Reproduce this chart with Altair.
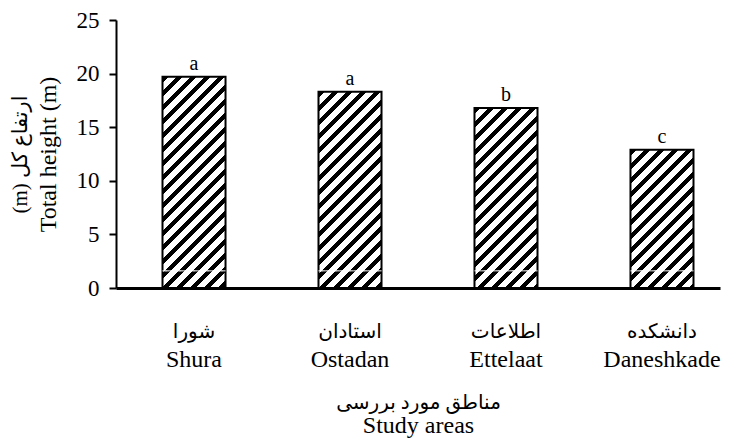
import altair as alt
import pandas as pd

areas_fa = ["شورا", "استادان", "اطلاعات", "دانشکده"]
areas_en = ["Shura", "Ostadan", "Ettelaat", "Daneshkade"]
heights = [19.7, 18.3, 16.8, 12.9]
letters = ["a", "a", "b", "c"]
lower_seg = [1.6, 1.6, 1.6, 1.6]

x_title_fa = "مناطق مورد بررسی"
x_title_en = "Study areas"
y_title_fa = "\u202bارتفاع کل (m)\u202c"
y_title_en = "Total height (m)"

labels = [f"{fa}|{en}" for fa, en in zip(areas_fa, areas_en)]
df = pd.DataFrame({"area": labels, "h": heights, "letter": letters, "seg": lower_seg})

W, H = 604, 268
YMAX = 25
BW = 63.0          # approx band width in px (for hatch geometry)
PERIOD = 14.0      # hatch period measured along x+y
DUTY = 0.47
FONT = "Liberation Serif, DejaVu Sans"


def hatch(value):
    w = BW
    h = value * H / YMAX
    s = w + h
    dx = w * s / (w * w + h * h)
    dy = h * s / (w * w + h * h)
    stops = [alt.GradientStop(color="white", offset=0)]
    k = 0
    while k * PERIOD < s:
        t0 = k * PERIOD / s
        t1 = min((k * PERIOD + DUTY * PERIOD) / s, 1.0)
        stops += [
            alt.GradientStop(color="white", offset=t0),
            alt.GradientStop(color="black", offset=t0),
            alt.GradientStop(color="black", offset=t1),
            alt.GradientStop(color="white", offset=t1),
        ]
        k += 1
    stops.append(alt.GradientStop(color="white", offset=1))
    return alt.LinearGradient(gradient="linear", stops=stops, x1=0, y1=0, x2=dx, y2=dy)


xscale = alt.Scale(domain=labels, paddingInner=0.596, paddingOuter=0.234, align=0.637)
yscale = alt.Scale(domain=[0, YMAX])

common = dict(labelColor="black", titleColor="black", titleFontWeight="normal", titleFont=FONT, labelFont=FONT)

# Axis 1: Persian category names + Persian x title, axis line
x_axis_fa = alt.Axis(
    orient="bottom",
    title=x_title_fa,
    labelExpr="split(datum.label, '|')[0]",
    labelAngle=0,
    labelFontSize=20,
    labelBaseline="alphabetic",
    labelPadding=49,
    ticks=False,
    domainColor="black",
    domainWidth=3,
    titleFontSize=20,
    titleBaseline="alphabetic",
    titleX=W / 2,
    titleY=120,
    **common,
)
# Axis 2: English category names + English x title
x_axis_en = alt.Axis(
    orient="bottom",
    title=x_title_en,
    labelExpr="split(datum.label, '|')[1]",
    labelAngle=0,
    labelFontSize=24,
    labelBaseline="alphabetic",
    labelPadding=78,
    ticks=False,
    domain=False,
    titleFontSize=24,
    titleBaseline="alphabetic",
    titleX=W / 2,
    titleY=144,
    **common,
)
y_axis_en = alt.Axis(
    orient="left",
    title=y_title_en,
    values=[0, 5, 10, 15, 20, 25],
    grid=False,
    labelFontSize=23,
    labelPadding=10,
    tickSize=7,
    tickWidth=2,
    tickColor="black",
    domainColor="black",
    domainWidth=2,
    titleFontSize=24,
    titleAngle=270,
    titleBaseline="middle",
    titleAlign="center",
    titleX=-68,
    titleY=H / 2,
    **common,
)
y_axis_fa = alt.Axis(
    orient="left",
    title=y_title_fa,
    labels=False,
    ticks=False,
    domain=False,
    grid=False,
    titleFontSize=21,
    titleAngle=270,
    titleBaseline="middle",
    titleAlign="center",
    titleX=-96,
    titleY=H / 2,
    **common,
)

base = alt.Chart(df)
bar_layers = []
for lab, val in zip(labels, heights):
    bar_layers.append(
        base.transform_filter(alt.datum.area == lab)
        .mark_bar(fill=hatch(val), stroke="black", strokeWidth=2)
        .encode(
            x=alt.X("area:N", scale=xscale, sort=None, axis=x_axis_fa),
            y=alt.Y("h:Q", scale=yscale, axis=y_axis_en),
        )
    )

seg = base.mark_bar(fillOpacity=0, stroke="white", strokeWidth=1, strokeDash=[4, 3]).encode(
    x=alt.X("area:N", scale=xscale, sort=None, axis=x_axis_fa),
    y=alt.Y("seg:Q", scale=yscale, axis=y_axis_en),
    y2="seg:Q",
)

inner = alt.layer(*bar_layers, seg)

text = base.mark_text(font="Liberation Serif", fontSize=20, baseline="alphabetic", dy=-7, color="black").encode(
    x=alt.X("area:N", scale=xscale, sort=None, axis=x_axis_en),
    y=alt.Y("h:Q", scale=yscale, axis=y_axis_fa),
    text="letter:N",
)

chart = (
    alt.layer(inner, text)
    .resolve_axis(x="independent", y="independent")
    .properties(
        width=W,
        height=H,
        autosize="none",
        padding={"left": 108, "top": 12, "right": 2, "bottom": 152},
    )
    .configure_view(stroke=None)
)

chart.save("out.html", embed_options={"renderer": "svg", "actions": False})
